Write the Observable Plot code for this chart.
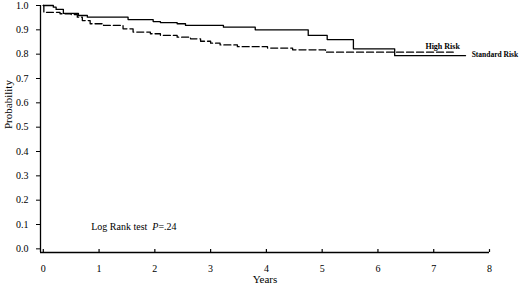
<!DOCTYPE html>
<html>
<head>
<meta charset="utf-8">
<script src="https://cdn.jsdelivr.net/npm/d3@7"></script>
<script src="https://cdn.jsdelivr.net/npm/@observablehq/plot@0.6"></script>
<style>
  html, body { margin: 0; padding: 0; background: white; }
  svg text { font-family: "Liberation Serif", serif; }
</style>
</head>
<body>
<div id="chart"></div>
<script>
// Standard Risk (solid) Kaplan-Meier steps
const stdTime = [0, 0.18, 0.23, 0.36, 0.63, 0.79, 1.52, 1.97, 2.10, 2.40, 2.55, 3.23, 3.80, 4.75, 5.09, 5.56, 6.30, 7.57];
const stdSurv = [1.0, 0.993, 0.984, 0.968, 0.959, 0.952, 0.942, 0.934, 0.930, 0.925, 0.918, 0.911, 0.900, 0.877, 0.860, 0.822, 0.794, 0.794];
// High Risk (dashed) Kaplan-Meier steps
const highTime = [0, 0.01, 0.30, 0.50, 0.61, 0.70, 0.84, 1.08, 1.43, 1.61, 1.92, 2.10, 2.40, 2.64, 2.82, 3.00, 3.17, 3.48, 4.02, 4.47, 5.06, 7.35];
const highSurv = [1.0, 0.972, 0.966, 0.963, 0.952, 0.938, 0.925, 0.918, 0.904, 0.891, 0.884, 0.877, 0.870, 0.863, 0.853, 0.845, 0.838, 0.831, 0.825, 0.818, 0.808, 0.808];

const xTicks = [0, 1, 2, 3, 4, 5, 6, 7, 8];
const yTicks = [0, 0.1, 0.2, 0.3, 0.4, 0.5, 0.6, 0.7, 0.8, 0.9, 1.0];
const seriesLabels = ["High Risk", "Standard Risk"];
const xTitle = "Years";
const yTitle = "Probability";
const note = "Log Rank test  P=.24";

const std = stdTime.map((t, i) => ({t, s: stdSurv[i]}));
const high = highTime.map((t, i) => ({t, s: highSurv[i]}));

const x0 = -0.05, y0 = -0.015;

const chart = Plot.plot({
  width: 520,
  height: 288,
  marginLeft: 40,
  marginRight: 31,
  marginTop: 5,
  marginBottom: 36,
  x: {domain: [x0, 8]},
  y: {domain: [y0, 1]},
  style: {fontFamily: "Liberation Serif", fontSize: "10px", background: "white", color: "black"},
  marks: [
    Plot.ruleX([x0], {y1: y0, y2: 1, stroke: "black", strokeWidth: 1.3}),
    Plot.ruleY([y0], {x1: x0, x2: 8, stroke: "black", strokeWidth: 1.3}),
    Plot.ruleX(xTicks, {x: d => d, y1: y0, y2: y0 + 0.012, stroke: "black", strokeWidth: 1.2}),
    Plot.axisY({ticks: yTicks, tickFormat: d3.format(".1f"), tickSize: 4, tickPadding: 8, label: null, fontSize: 10}),
    Plot.axisX({ticks: xTicks, tickSize: 0, tickPadding: 12, label: null, tickFormat: d => String(d), fontSize: 10}),
    Plot.text([yTitle], {frameAnchor: "left", rotate: -90, dx: -32, fontSize: 11}),
    Plot.text([xTitle], {frameAnchor: "bottom", dy: 30, fontSize: 11}),
    Plot.line(std, {x: "t", y: "s", curve: "step-after", stroke: "black", strokeWidth: 1.3}),
    Plot.line(high, {x: "t", y: "s", curve: "step-after", stroke: "black", strokeWidth: 1.3, strokeDasharray: "7,3"}),
    Plot.text([seriesLabels[0]], {x: 7.16, y: 0.831, fontSize: 8, fontWeight: "bold"}),
    Plot.text([seriesLabels[1]], {x: 7.68, y: 0.799, textAnchor: "start", fontSize: 7.5, fontWeight: "bold"}),
    Plot.text([note], {x: 0.86, y: 0.092, textAnchor: "start", fontSize: 10, className: "lognote"})
  ]
});

document.getElementById("chart").appendChild(chart);

// italicize the "P" in the log rank note
const nt = chart.querySelector(".lognote text");
if (nt) {
  nt.innerHTML = 'Log Rank test\u00a0\u00a0<tspan font-style="italic">P</tspan>=.24';
}
</script>
</body>
</html>
